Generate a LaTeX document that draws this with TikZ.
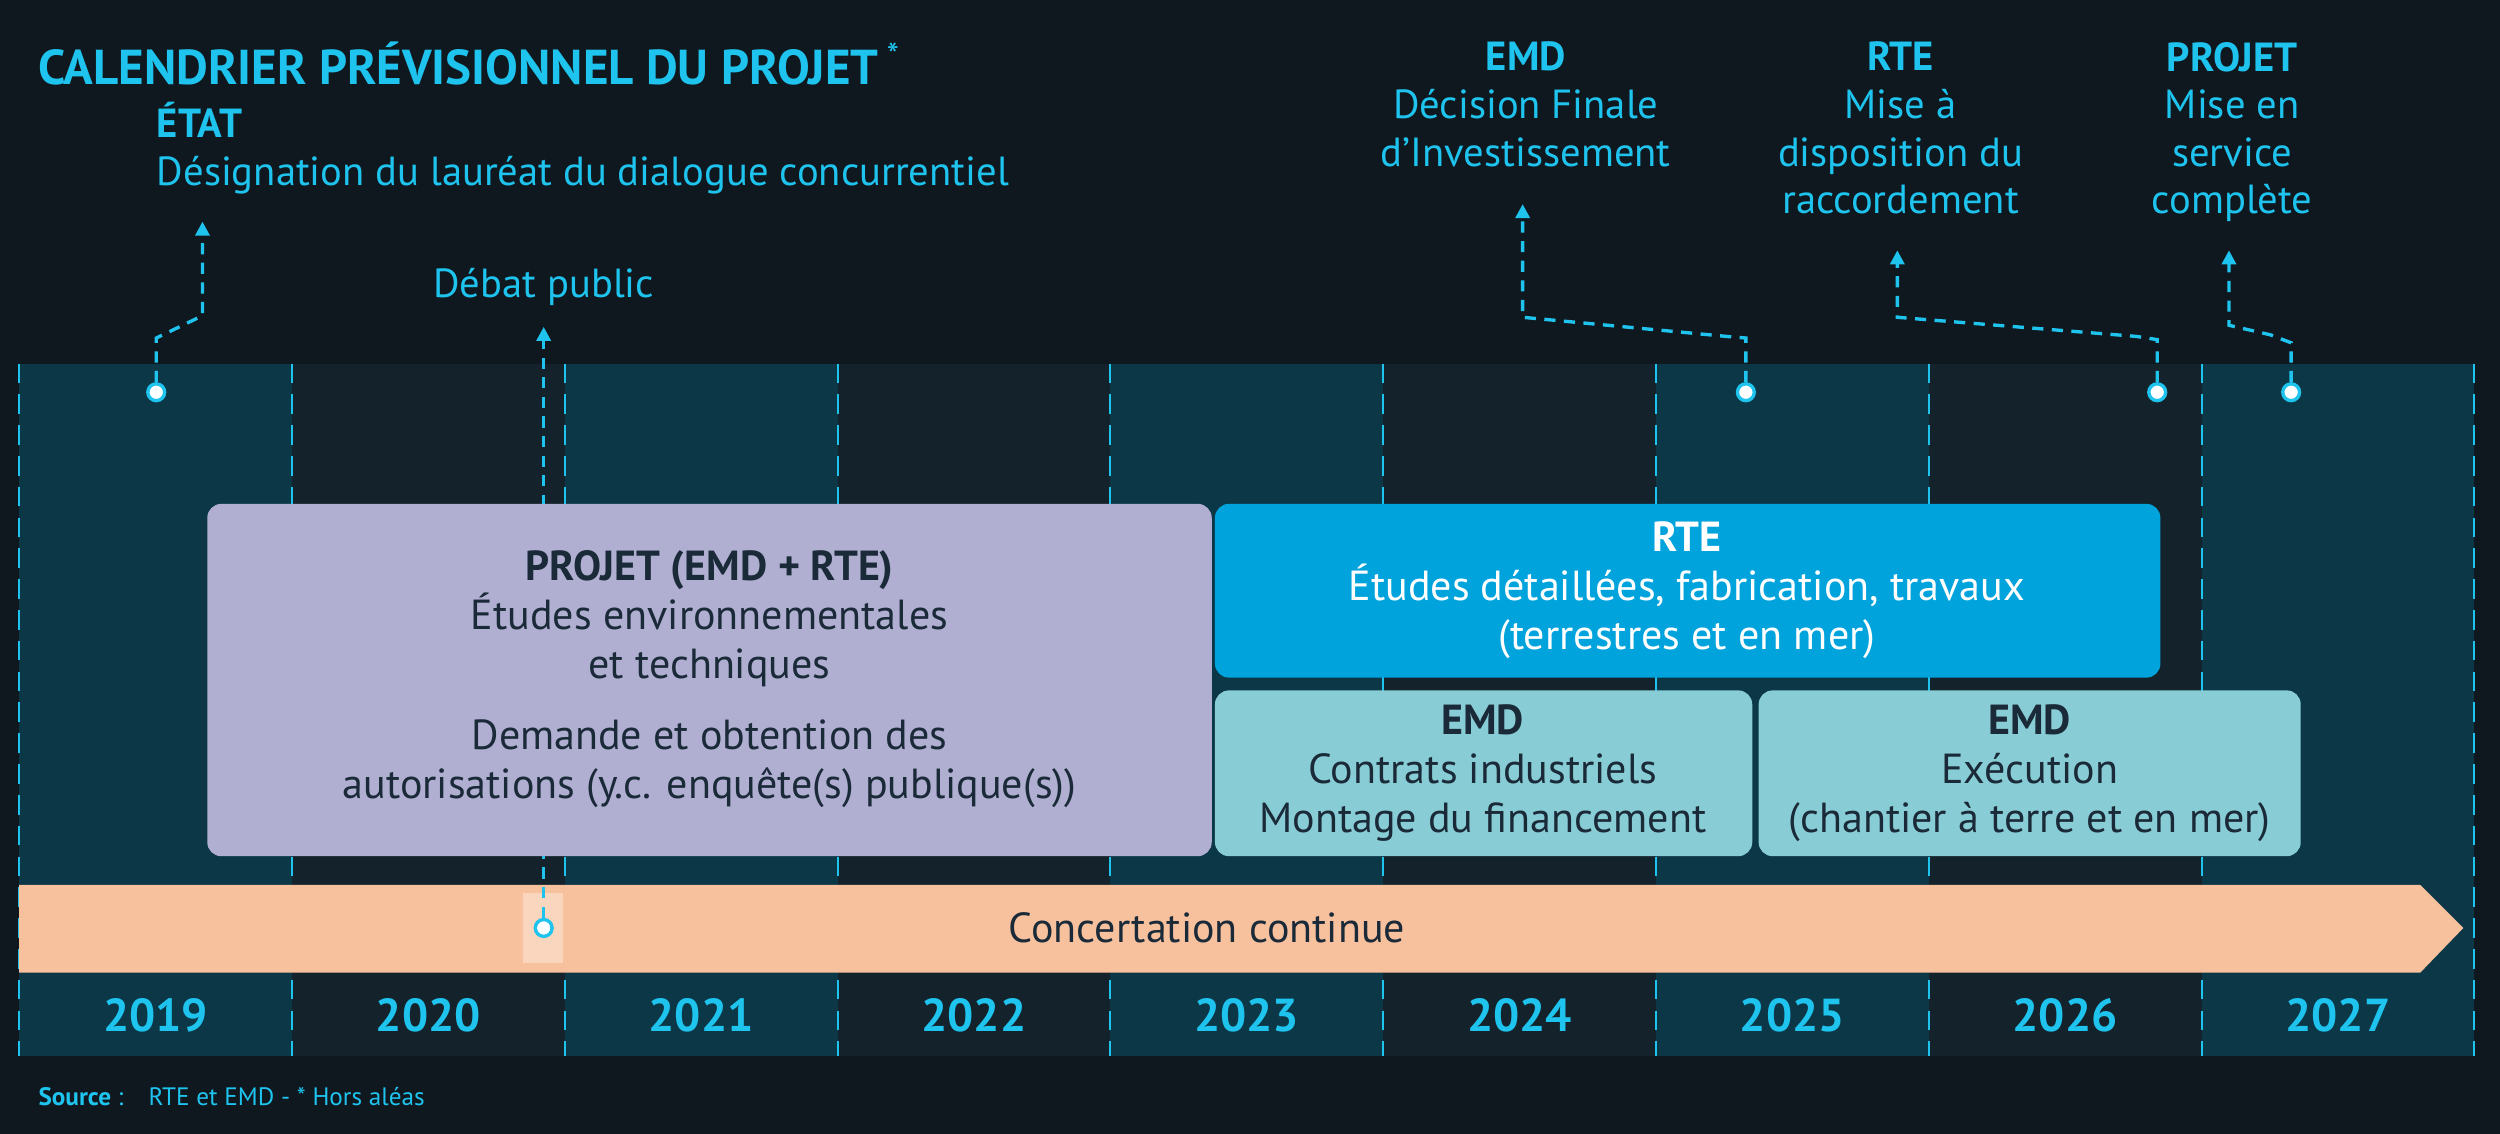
\documentclass[tikz,border=0pt]{standalone}
\usepackage{fontspec}
\setmainfont{PT Sans}
\usetikzlibrary{arrows.meta}
\definecolor{bgdark}{HTML}{10181F}
\definecolor{colA}{HTML}{0B3747}
\definecolor{colB}{HTML}{14232B}
\definecolor{cyanline}{HTML}{1EC3EE}
\definecolor{lilac}{HTML}{B0AFD2}
\definecolor{rteblue}{HTML}{00A3DC}
\definecolor{emdteal}{HTML}{88CDD5}
\definecolor{peach}{HTML}{F8C19E}
\definecolor{inkdark}{HTML}{1B2A38}
\tikzset{
  milestone/.style={font=\fontsize{14.5}{17}\selectfont,text=cyanline,align=center,inner sep=0pt},
  leader/.style={cyanline,line width=1.2pt,dash pattern=on 4pt off 3pt,-{Triangle[length=5pt,width=5pt]}},
  dot/.style={circle,fill=white,draw=cyanline,line width=1.2pt,inner sep=0pt,minimum size=6pt},
  phase/.style={text=inkdark,align=center,font=\fontsize{15}{17.5}\selectfont},
  year/.style={font=\bfseries\fontsize{16.5}{18}\selectfont,text=cyanline}
}
\begin{document}
\begin{tikzpicture}[x=0.02cm,y=-0.02cm]
% Background
\fill[bgdark] (0,0) rectangle (1568,711);
\useasboundingbox (0,0) rectangle (1568,711);

% Year columns
\foreach \i/\yr in {0/2019,1/2020,2/2021,3/2022,4/2023,5/2024,6/2025,7/2026,8/2027}{
  \pgfmathsetmacro{\xa}{12+171.1*\i}
  \pgfmathsetmacro{\xb}{12+171.1*(\i+1)}
  \pgfmathtruncatemacro{\odd}{mod(\i,2)}
  \ifnum\odd=0 \fill[colA] (\xa,228) rectangle (\xb,662);
  \else \fill[colB] (\xa,228) rectangle (\xb,662); \fi
  \node[year] (y\yr) at ({(\xa+\xb)/2},637) {\yr};
}
\foreach \i in {0,...,9}
  \draw[cyanline,line width=0.7pt,dash pattern=on 7pt off 4pt] ({12+171.1*\i},228) -- ({12+171.1*\i},662);

% Concertation continue
\fill[peach] (12,555) -- (1518,555) -- (1545,582) -- (1518,610) -- (12,610) -- cycle;
\fill[white,opacity=0.35] (328,560) rectangle (353,604);
\node[text=inkdark,font=\fontsize{15}{17}\selectfont] (conc) at (757,582) {Concertation continue};

% Debat public leader (behind the boxes)
\node[dot] (d2) at (341,582) {};
\coordinate (a2) at (341,205);
\draw[leader] (d2) -- (a2);

% Phases
\fill[lilac,rounded corners=5pt] (130,316) rectangle (760,537);
\node[phase] (projet) at (445,426) {\textbf{PROJET (EMD + RTE)}\\Études environnementales\\et techniques\\[8pt]Demande et obtention des\\autorisations (y.c. enquête(s) publique(s))};
\fill[rteblue,rounded corners=5pt] (762,316) rectangle (1355,425);
\node[phase,text=white] (rte) at (1058,370) {\textbf{RTE}\\Études détaillées, fabrication, travaux\\(terrestres et en mer)};
\fill[emdteal,rounded corners=5pt] (762,433) rectangle (1099,537);
\node[phase] (emda) at (930,485) {\textbf{EMD}\\Contrats industriels\\Montage du financement};
\fill[emdteal,rounded corners=5pt] (1103,433) rectangle (1443,537);
\node[phase] (emdb) at (1273,485) {\textbf{EMD}\\Exécution\\(chantier à terre et en mer)};

% Title
\node[anchor=west,text=cyanline,font=\bfseries\fontsize{17.5}{20}\selectfont] (title) at (18,40) {CALENDRIER PRÉVISIONNEL DU PROJET\,\textsuperscript{\mdseries*}};

% Milestones
\node[milestone,anchor=north west,align=left] (etat) at (98,64) {\textbf{ÉTAT}\\Désignation du lauréat du dialogue concurrentiel};
\node[milestone] (debat) at (341,180) {Débat public};
\node[milestone,anchor=north] (fid) at (957,26) {\textbf{EMD}\\Décision Finale\\d’Investissement};
\node[milestone,anchor=north] (racc) at (1192,26) {\textbf{RTE}\\Mise à\\disposition du\\raccordement};
\node[milestone,anchor=north] (service) at (1400,26) {\textbf{PROJET}\\Mise en\\service\\complète};

\node[dot] (d1) at (98,246) {};
\node[dot] (d3) at (1095,246) {};
\node[dot] (d4) at (1353,246) {};
\node[dot] (d5) at (1437,246) {};
\coordinate (a1) at (127,139);
\coordinate (a3) at (955,128);
\coordinate (a4) at (1190,157);
\coordinate (a5) at (1398,157);

\draw[leader] (d1) -- (98,212) -- (127,198) -- (a1);
\draw[leader] (d3) -- (1095,212) -- (1083,211) -- (955,199) -- (a3);
\draw[leader] (d4) -- (1353,213) -- (1340,211) -- (1190,199) -- (a4);
\draw[leader] (d5) -- (1437,215) -- (1424,210) -- (1398,204) -- (a5);

% Source
\node[anchor=west,font=\fontsize{9}{11}\selectfont,text=cyanline] (src) at (18,688) {\textbf{Source} :\quad RTE et EMD - * Hors aléas};
\end{tikzpicture}
\end{document}
